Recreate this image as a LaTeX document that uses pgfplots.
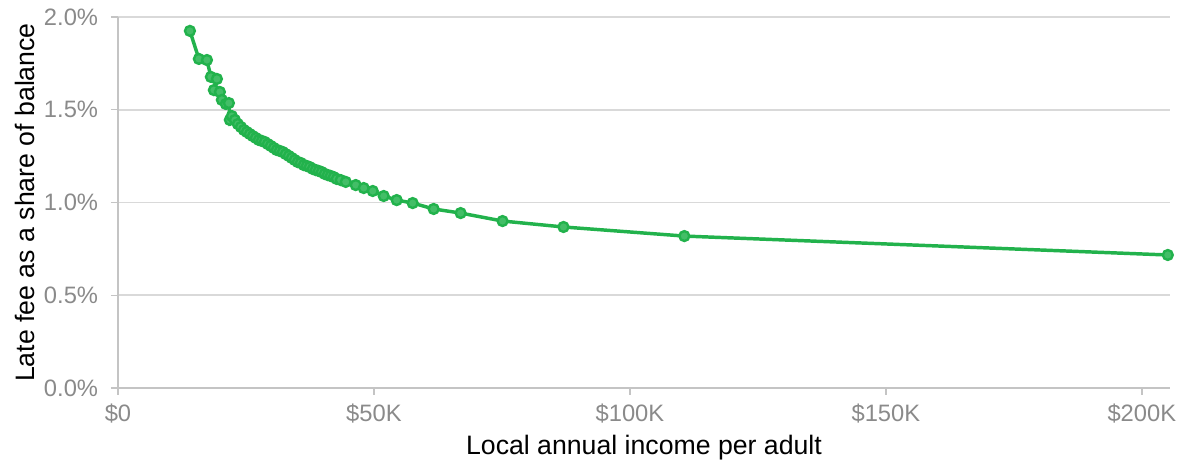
\documentclass[border=0pt]{standalone}
\usepackage{fontspec}
\setmainfont{Liberation Sans}
\usepackage{pgfplots}
\pgfplotsset{compat=1.18}
\definecolor{lgreen}{HTML}{22B24C}
\definecolor{tickgray}{HTML}{8A8A8A}
\definecolor{gridgray}{HTML}{D9D9D9}
\definecolor{axgray}{HTML}{C4C4C4}
\begin{document}
\begin{tikzpicture}
\begin{axis}[
  scale only axis,
  width=789pt, height=278.25pt,
  xmin=0, xmax=205.5, ymin=0, ymax=2.0,
  axis x line*=bottom, axis y line*=left,
  axis line style={axgray, line width=1.2pt},
  xtick={0,50,100,150,200},
  xticklabels={\$0,\$50K,\$100K,\$150K,\$200K},
  ytick={0,0.5,1.0,1.5,2.0},
  yticklabels={0.0\%,0.5\%,1.0\%,1.5\%,2.0\%},
  tick align=outside,
  major tick length=5.25pt,
  tick style={axgray, line width=1pt},
  ymajorgrids,
  major grid style={gridgray, line width=1.2pt},
  /pgf/number format/assume math mode=true,
  ticklabel style={font=\fontsize{17.8pt}{20pt}\selectfont, text=tickgray},
  xticklabel style={anchor=center, inner sep=0pt, yshift=-14pt},
  yticklabel style={anchor=east, inner sep=0pt, xshift=-9.5pt},
  xlabel={Local annual income per adult},
  ylabel={Late fee as a share of balance},
  every axis x label/.style={at={(rel axis cs:0.5,0)}, anchor=center, yshift=-45pt,
     font=\fontsize{20pt}{24pt}\selectfont, text=black},
  every axis y label/.style={at={(rel axis cs:0,0.5)}, xshift=-69.75pt, rotate=90, anchor=center,
     font=\fontsize{20pt}{24pt}\selectfont, text=black},
  clip=false,
]
\addplot[lgreen, line width=2.6pt, mark=*, mark size=3.7pt,
  mark options={draw=lgreen, fill=lgreen!85!white, line width=1.8pt}]
coordinates {
(14.05,1.925)(15.80,1.774)(17.37,1.768)(18.15,1.677)(19.32,1.666)(18.73,1.606)
(19.90,1.596)(20.29,1.553)(21.07,1.531)(21.66,1.536)(21.85,1.445)(22.24,1.466)
(22.83,1.445)(23.41,1.423)(24.00,1.407)(24.59,1.391)(25.17,1.380)(25.76,1.369)
(26.34,1.358)(26.93,1.348)(27.51,1.337)(28.10,1.332)(28.68,1.326)(29.27,1.315)
(29.85,1.305)(30.44,1.294)(31.02,1.283)(31.61,1.278)(32.20,1.272)(32.78,1.261)
(33.37,1.251)(33.95,1.240)(34.54,1.229)(35.12,1.218)(35.71,1.213)(36.29,1.202)
(36.88,1.197)(37.46,1.191)(38.05,1.181)(38.63,1.175)(39.22,1.170)(39.80,1.164)
(40.39,1.154)(40.98,1.148)(41.56,1.143)(42.15,1.137)(42.73,1.127)(43.51,1.121)
(44.49,1.111)(46.44,1.094)(48.00,1.078)(49.76,1.062)(51.90,1.035)(54.44,1.013)
(57.56,0.997)(61.66,0.965)(66.93,0.943)(75.12,0.900)(87.02,0.868)(110.63,0.819)
(205.07,0.717)
};
\end{axis}
\pgfresetboundingbox
\path (current axis.south west)+(-88.5pt,-57.75pt) coordinate (bbl);
\path (current axis.north east)+(14.25pt,12.75pt) coordinate (btr);
\useasboundingbox (bbl) rectangle (btr);
\end{tikzpicture}
\end{document}
